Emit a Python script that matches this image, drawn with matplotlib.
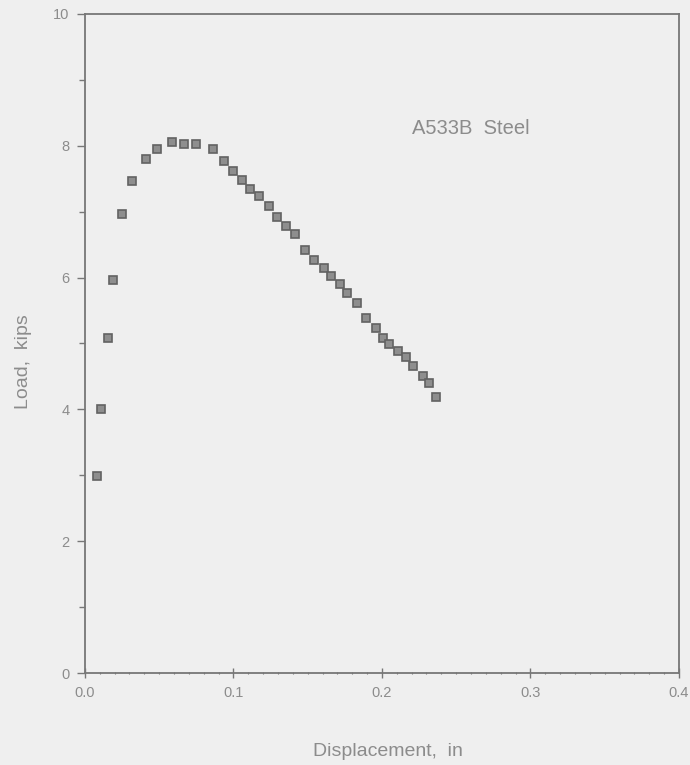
import matplotlib.pyplot as plt
from matplotlib.ticker import MultipleLocator

# load-displacement readings, A533B steel
disp = [0.0083, 0.0108, 0.0155, 0.019, 0.0247, 0.032, 0.041, 0.0487, 0.059,
        0.0667, 0.075, 0.086, 0.0936, 0.0994, 0.1055, 0.111, 0.117, 0.124,
        0.1295, 0.1354, 0.1414, 0.148, 0.154, 0.161, 0.166, 0.1717, 0.1764,
        0.183, 0.189, 0.1958, 0.2005, 0.2047, 0.2106, 0.2162, 0.2207, 0.2274,
        0.2316, 0.2364]
load = [2.99, 4.0, 5.08, 5.96, 6.96, 7.47, 7.80, 7.95, 8.06,
        8.03, 8.03, 7.95, 7.76, 7.62, 7.48, 7.35, 7.23, 7.08,
        6.92, 6.78, 6.66, 6.42, 6.27, 6.14, 6.02, 5.90, 5.76,
        5.61, 5.38, 5.23, 5.09, 4.99, 4.88, 4.80, 4.66, 4.50,
        4.40, 4.19]

xticks = [0.0, 0.1, 0.2, 0.3, 0.4]
xticklabels = ["0.0", "0.1", "0.2", "0.3", "0.4"]
yticks = [0, 2, 4, 6, 8, 10]

bg = "#efefef"
ink = "#8c8c8c"
line = "#777777"

plt.rcParams["font.family"] = ["Liberation Sans", "DejaVu Sans"]

fig = plt.figure(figsize=(6.9, 7.65), dpi=100, facecolor=bg)
ax = fig.add_axes([0.123, 0.120, 0.861, 0.862], facecolor=bg)

ax.plot(disp, load, linestyle="none", marker="s", markersize=5.5,
        markerfacecolor="#8e8e8e", markeredgecolor="#626262",
        markeredgewidth=1.2)

ax.set_xlim(0, 0.4)
ax.set_ylim(0, 10)
ax.set_xticks(xticks)
ax.set_xticklabels(xticklabels)
ax.set_yticks(yticks)
ax.xaxis.set_minor_locator(MultipleLocator(0.01))
ax.yaxis.set_minor_locator(MultipleLocator(1))

ax.tick_params(axis="both", which="major", colors=line, labelcolor=ink,
               labelsize=10.5, width=1)
ax.tick_params(axis="x", which="major", length=7, direction="inout", pad=6)
ax.tick_params(axis="y", which="major", length=6, direction="out", pad=5)
ax.tick_params(axis="x", which="minor", colors=line, length=2, width=0.8,
               direction="inout")
ax.tick_params(axis="y", which="minor", colors=line, length=4, width=1,
               direction="out")

for s in ax.spines.values():
    s.set_color(line)
    s.set_linewidth(1.3)

ax.text(0.220, 8.26, "A533B  Steel", fontsize=14.5, color=ink, va="center")

ax.set_xlabel("Displacement,  in", fontsize=14, color=ink)
ax.set_ylabel("Load,  kips", fontsize=14, color=ink)
ax.xaxis.set_label_coords(0.51, -0.118)
ax.yaxis.set_label_coords(-0.103, 0.473)
ax.xaxis.label.set_va("center")
ax.yaxis.label.set_va("center")

plt.savefig("out.png", dpi=100, facecolor=bg)
plt.close()
